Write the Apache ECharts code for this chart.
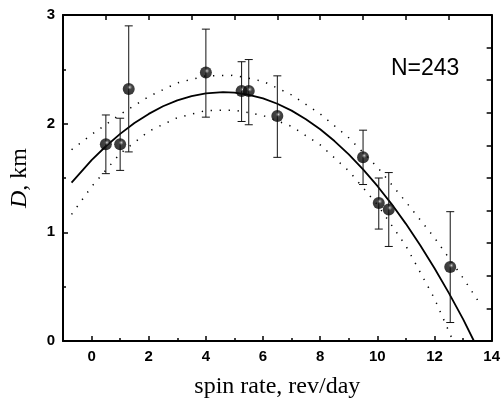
<!DOCTYPE html>
<html>
<head>
<meta charset="utf-8">
<script src="https://cdn.jsdelivr.net/npm/echarts@6/dist/echarts.min.js"></script>
<style>html,body{margin:0;padding:0;background:#fff}#c{width:503px;height:404px}</style>
</head>
<body>
<div id="c"></div>
<script>
// Measured data points with error bars
var errX    = [0.5, 1.0, 1.3, 4.0, 5.25, 5.5, 6.5, 9.5, 10.05, 10.4, 12.55];
var errY    = [1.81, 1.81, 2.32, 2.47, 2.30, 2.30, 2.07, 1.69, 1.27, 1.21, 0.68];
var errLow  = [1.54, 1.57, 1.74, 2.06, 2.02, 1.99, 1.69, 1.44, 1.03, 0.87, 0.17];
var errHigh = [2.08, 2.05, 2.90, 2.87, 2.57, 2.59, 2.44, 1.94, 1.50, 1.55, 1.19];

// Fitted curve
var fitX = [-0.7, 0, 0.5, 1, 1.5, 2, 2.5, 3, 3.5, 4, 4.6, 5, 5.5, 6, 6.5, 7, 7.5, 8, 8.5, 9, 9.5, 10, 10.5, 11, 11.5, 12, 12.5, 13, 13.38];
var fitY = [1.458, 1.664, 1.792, 1.906, 2.006, 2.090, 2.160, 2.214, 2.254, 2.279, 2.29, 2.285, 2.266, 2.232, 2.183, 2.120, 2.041, 1.948, 1.840, 1.717, 1.580, 1.427, 1.260, 1.078, 0.881, 0.669, 0.443, 0.201, 0];

// Upper dotted band
var upX = [-0.7, 0, 1, 2, 3, 4, 5, 6, 7, 8, 9, 10, 11, 12, 13, 13.65];
var upY = [1.76, 1.90, 2.085, 2.25, 2.375, 2.44, 2.445, 2.39, 2.265, 2.09, 1.87, 1.60, 1.28, 0.95, 0.58, 0.32];

// Lower dotted band
var loX = [-0.7, 0, 1, 2, 3, 4, 5, 6, 7, 8, 9, 10, 11, 12, 12.65];
var loY = [1.165, 1.42, 1.725, 1.93, 2.055, 2.12, 2.125, 2.075, 1.975, 1.805, 1.565, 1.255, 0.875, 0.39, 0];

var xMajorTicks = [0, 2, 4, 6, 8, 10, 12, 14];
var xMinorTicks = [1, 3, 5, 7, 9, 11, 13];
var yMinorTicks = [0.5, 1.5, 2.5];
var annotation = 'N=243';

function pairs(xs, ys) { return xs.map(function (x, i) { return [x, ys[i]]; }); }

var chart = echarts.init(document.getElementById('c'), null, {renderer: 'canvas'});
var black = '#000';
var sans = '"Liberation Sans", Arial, sans-serif';
var serif = '"Liberation Serif", "Times New Roman", serif';

var ball = new echarts.graphic.RadialGradient(0.58, 0.36, 0.72, [
  {offset: 0, color: '#e8e8e8'},
  {offset: 0.1, color: '#7a7a7a'},
  {offset: 0.28, color: '#151515'},
  {offset: 1, color: '#000'}
]);

var option = {
  animation: false,
  backgroundColor: '#fff',
  grid: {left: 57, right: 9, top: 15, bottom: 62, containLabel: false},
  xAxis: [
    {
      type: 'value', position: 'bottom', min: -1, max: 14,
      axisLine: {show: true, onZero: false, lineStyle: {color: black, width: 2}},
      axisTick: {show: true, inside: true, length: 5, customValues: xMajorTicks, lineStyle: {color: black, width: 1.5}},
      axisLabel: {show: true, customValues: xMajorTicks, color: black, fontFamily: sans, fontWeight: 'bold', fontSize: 15, margin: 8},
      splitLine: {show: false},
      name: 'spin rate, rev/day', nameLocation: 'middle', nameGap: 34,
      nameTextStyle: {fontFamily: serif, fontSize: 24, color: black}
    },
    {
      type: 'value', position: 'bottom', min: -1, max: 14,
      axisLine: {show: false, onZero: false},
      axisTick: {show: true, inside: true, length: 3, customValues: xMinorTicks, lineStyle: {color: black, width: 1.5}},
      axisLabel: {show: false},
      splitLine: {show: false}
    },
    {
      type: 'value', position: 'top', min: 0, max: 10, interval: 1,
      axisLine: {show: true, onZero: false, lineStyle: {color: black, width: 2}},
      axisTick: {show: true, inside: true, length: 5, lineStyle: {color: black, width: 1.5}},
      axisLabel: {show: false},
      splitLine: {show: false}
    }
  ],
  yAxis: [
    {
      type: 'value', position: 'left', min: 0, max: 3, interval: 1,
      axisLine: {show: true, onZero: false, lineStyle: {color: black, width: 2}},
      axisTick: {show: true, inside: true, length: 5, lineStyle: {color: black, width: 1.5}},
      axisLabel: {show: true, color: black, fontFamily: sans, fontWeight: 'bold', fontSize: 15, margin: 8},
      splitLine: {show: false},
      name: '{i|D}, km', nameLocation: 'middle', nameGap: 31, nameRotate: 90,
      nameTextStyle: {fontFamily: serif, fontSize: 24, color: black,
        rich: {i: {fontFamily: serif, fontSize: 24, fontStyle: 'italic', color: black}}}
    },
    {
      type: 'value', position: 'left', min: 0, max: 3,
      axisLine: {show: false, onZero: false},
      axisTick: {show: true, inside: true, length: 3, customValues: yMinorTicks, lineStyle: {color: black, width: 1.5}},
      axisLabel: {show: false},
      splitLine: {show: false}
    },
    {
      type: 'value', position: 'right', min: 0, max: 10, interval: 1,
      axisLine: {show: true, onZero: false, lineStyle: {color: black, width: 2}},
      axisTick: {show: true, inside: true, length: 5, lineStyle: {color: black, width: 1.5}},
      axisLabel: {show: false},
      splitLine: {show: false}
    }
  ],
  graphic: [{
    type: 'text', left: 391, top: 57,
    style: {text: annotation, fontFamily: sans, fontSize: 23, fill: black}
  }],
  series: [
    {
      type: 'line', xAxisIndex: 0, yAxisIndex: 0, data: pairs(upX, upY),
      showSymbol: false, symbol: 'none', clip: true, z: 1,
      lineStyle: {color: black, width: 1.5, type: [1.3, 7.7]}
    },
    {
      type: 'line', xAxisIndex: 0, yAxisIndex: 0, data: pairs(loX, loY),
      showSymbol: false, symbol: 'none', clip: true, z: 1,
      lineStyle: {color: black, width: 1.5, type: [1.3, 7.7]}
    },
    {
      type: 'line', xAxisIndex: 0, yAxisIndex: 0, data: pairs(fitX, fitY),
      showSymbol: false, symbol: 'none', clip: true, z: 2,
      lineStyle: {color: black, width: 1.8}
    },
    {
      type: 'custom', xAxisIndex: 0, yAxisIndex: 0, z: 3,
      data: errX.map(function (x, i) { return [x, errY[i], errLow[i], errHigh[i]]; }),
      renderItem: function (params, api) {
        var x = api.value(0);
        var pLo = api.coord([x, api.value(2)]);
        var pHi = api.coord([x, api.value(3)]);
        var w = 4;
        var st = {stroke: '#111', lineWidth: 1};
        return {
          type: 'group',
          children: [
            {type: 'line', shape: {x1: pLo[0], y1: pLo[1], x2: pHi[0], y2: pHi[1]}, style: st},
            {type: 'line', shape: {x1: pLo[0] - w, y1: pLo[1], x2: pLo[0] + w, y2: pLo[1]}, style: st},
            {type: 'line', shape: {x1: pHi[0] - w, y1: pHi[1], x2: pHi[0] + w, y2: pHi[1]}, style: st}
          ]
        };
      }
    },
    {
      type: 'scatter', xAxisIndex: 0, yAxisIndex: 0, z: 4,
      data: pairs(errX, errY),
      symbol: 'circle', symbolSize: 12,
      itemStyle: {color: ball, borderWidth: 0}
    }
  ]
};
chart.setOption(option);
</script>
</body>
</html>
